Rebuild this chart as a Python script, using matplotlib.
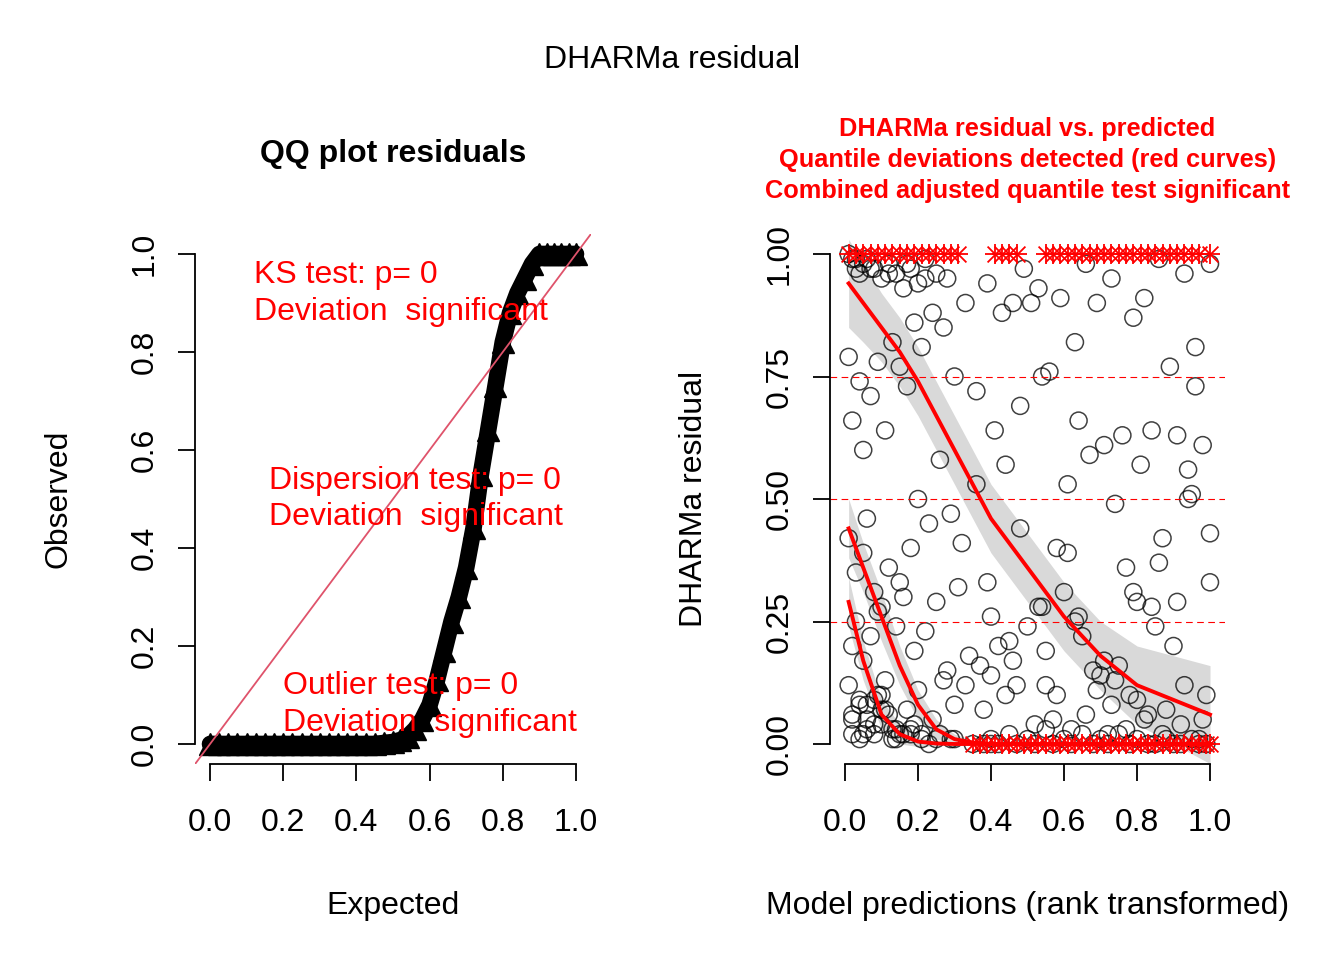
import numpy as np
import matplotlib
matplotlib.use("Agg")
import matplotlib.pyplot as plt

plt.rcParams['font.family'] = ['Liberation Sans', 'DejaVu Sans']

# QQ plot: observed quantiles at expected positions
qq_expected = [0.0, 0.025, 0.05, 0.075, 0.1, 0.125, 0.15, 0.175, 0.2, 0.225, 0.25, 0.275, 0.3,
               0.325, 0.35, 0.375, 0.4, 0.425, 0.45, 0.475, 0.5, 0.52, 0.54, 0.56, 0.58, 0.6,
               0.62, 0.64, 0.66, 0.68, 0.7, 0.72, 0.74, 0.76, 0.78, 0.8, 0.82, 0.84, 0.86,
               0.88, 0.9, 0.92, 0.94, 0.96, 0.98, 1.0]
qq_observed = [0.0, 0.0, 0.0, 0.0, 0.0, 0.0, 0.0, 0.0, 0.0, 0.0, 0.0, 0.0, 0.0,
               0.0, 0.0, 0.0, 0.0, 0.0, 0.0, 0.002, 0.004, 0.008, 0.015, 0.03, 0.05, 0.08,
               0.13, 0.19, 0.25, 0.30, 0.36, 0.44, 0.55, 0.64, 0.73, 0.82, 0.88, 0.92, 0.95,
               0.98, 1.0, 1.0, 1.0, 1.0, 1.0, 1.0]

# residual vs predicted scatter
res_x = [0.01, 0.02, 0.03, 0.04, 0.05, 0.06, 0.08, 0.1, 0.12, 0.14, 0.16, 0.18, 0.2, 0.22, 0.25, 0.28,
         0.01, 0.02, 0.04, 0.05, 0.07, 0.09, 0.11, 0.13, 0.15, 0.17, 0.19, 0.21, 0.24, 0.27, 0.3, 0.33,
         0.01, 0.03, 0.05, 0.06, 0.08, 0.1, 0.12, 0.15, 0.18, 0.2, 0.23, 0.26, 0.29, 0.32, 0.36,
         0.02, 0.03, 0.05, 0.07, 0.09, 0.11, 0.14, 0.16, 0.19, 0.22, 0.25, 0.28, 0.31, 0.34,
         0.01, 0.02, 0.04, 0.06, 0.08, 0.1, 0.12, 0.14, 0.17, 0.2, 0.24, 0.27, 0.3, 0.33, 0.37,
         0.02, 0.04, 0.06, 0.08, 0.1, 0.13, 0.15, 0.18, 0.21, 0.23, 0.26, 0.3, 0.35, 0.4,
         0.38, 0.4, 0.42, 0.45, 0.47, 0.5, 0.52, 0.55, 0.57, 0.6, 0.62, 0.65, 0.68, 0.7, 0.72, 0.75,
         0.78, 0.8, 0.83, 0.85, 0.88, 0.9, 0.92, 0.95, 0.97, 0.99,
         0.39, 0.43, 0.46, 0.49, 0.53, 0.56, 0.59, 0.63, 0.66, 0.69, 0.73, 0.76, 0.79, 0.82, 0.86,
         0.89, 0.93, 0.96, 1.0,
         0.36, 0.41, 0.44, 0.48, 0.51, 0.54, 0.58, 0.61, 0.64, 0.67, 0.71, 0.74, 0.77, 0.81, 0.84,
         0.87, 0.91, 0.94, 0.98,
         0.4, 0.45, 0.5, 0.55, 0.6, 0.65, 0.7, 0.75, 0.8, 0.85, 0.9, 0.95, 1.0,
         0.42, 0.47, 0.53, 0.58, 0.63, 0.68, 0.73, 0.78, 0.83, 0.88, 0.93, 0.98,
         0.38, 0.44, 0.52, 0.57, 0.62, 0.66, 0.72, 0.77, 0.82, 0.87, 0.92, 0.97,
         0.4, 0.46, 0.55, 0.61, 0.69, 0.74, 0.8, 0.86, 0.91, 0.96, 1.0,
         0.39, 0.48, 0.54, 0.64, 0.71, 0.79, 0.84, 0.94, 0.99,
         0.02, 0.04, 0.06, 0.09, 0.11, 0.13, 0.16, 0.19, 0.03, 0.07, 0.12, 0.17, 0.22,
         0.05, 0.08, 0.1, 0.14, 0.18, 0.21, 0.25, 0.29]
res_y = [1.0, 0.99, 0.97, 0.96, 0.98, 0.99, 0.97, 0.95, 0.98, 0.96, 0.93, 0.97, 0.94, 0.99, 0.96, 0.95,
         0.79, 0.66, 0.74, 0.6, 0.71, 0.78, 0.64, 0.82, 0.77, 0.73, 0.86, 0.81, 0.88, 0.85, 0.75, 0.9,
         0.42, 0.35, 0.39, 0.46, 0.31, 0.28, 0.36, 0.33, 0.4, 0.5, 0.45, 0.58, 0.47, 0.41, 0.53,
         0.2, 0.25, 0.17, 0.22, 0.27, 0.13, 0.24, 0.3, 0.19, 0.23, 0.29, 0.15, 0.32, 0.18,
         0.12, 0.05, 0.09, 0.08, 0.04, 0.1, 0.06, 0.03, 0.07, 0.11, 0.05, 0.13, 0.08, 0.12, 0.16,
         0.02, 0.01, 0.03, 0.02, 0.04, 0.01, 0.02, 0.03, 0.01, 0.0, 0.02, 0.01, 0.0, 0.0,
         0.0, 0.01, 0.0, 0.02, 0.0, 0.01, 0.0, 0.03, 0.0, 0.01, 0.0, 0.02, 0.0, 0.01, 0.0, 0.02,
         0.0, 0.01, 0.0, 0.0, 0.01, 0.0, 0.0, 0.01, 0.0, 0.0,
         0.94, 0.88, 0.9, 0.97, 0.93, 0.76, 0.91, 0.82, 0.98, 0.9, 0.95, 0.63, 0.87, 0.91, 0.99,
         0.77, 0.96, 0.81, 0.98,
         0.72, 0.64, 0.57, 0.69, 0.9, 0.75, 0.4, 0.53, 0.66, 0.59, 0.61, 0.49, 0.36, 0.57, 0.64,
         0.42, 0.63, 0.5, 0.61,
         0.26, 0.21, 0.24, 0.19, 0.31, 0.22, 0.14, 0.16, 0.29, 0.24, 0.2, 0.51, 0.33,
         0.2, 0.12, 0.28, 0.1, 0.25, 0.15, 0.08, 0.1, 0.06, 0.07, 0.12, 0.05,
         0.07, 0.1, 0.04, 0.05, 0.03, 0.06, 0.02, 0.03, 0.05, 0.02, 0.04, 0.01,
         0.14, 0.17, 0.12, 0.39, 0.11, 0.13, 0.09, 0.37, 0.29, 0.73, 0.43,
         0.33, 0.44, 0.28, 0.26, 0.17, 0.31, 0.28, 0.56, 0.1,
         0.06, 0.08, 0.05, 0.1, 0.07, 0.03, 0.02, 0.04, 0.99, 0.97, 0.96, 0.98, 0.95,
         0.02, 0.09, 0.07, 0.01, 0.02, 0.02, 0.01, 0.01]

# outliers (stars) at the bounds
out_top_x = [0.01, 0.03, 0.05, 0.07, 0.09, 0.11, 0.13, 0.15, 0.17, 0.19, 0.21, 0.23, 0.25, 0.27, 0.29,
             0.31, 0.41, 0.43, 0.45, 0.47, 0.55, 0.57, 0.59, 0.61, 0.63, 0.65, 0.67, 0.69, 0.71, 0.73,
             0.75, 0.77, 0.79, 0.81, 0.83, 0.85, 0.87, 0.89, 0.91, 0.93, 0.95, 0.97, 1.0]
out_bot_x = [0.35, 0.37, 0.39, 0.41, 0.43, 0.45, 0.47, 0.49, 0.51, 0.53, 0.55, 0.57, 0.59, 0.61, 0.63,
             0.65, 0.67, 0.69, 0.71, 0.73, 0.75, 0.77, 0.79, 0.81, 0.83, 0.85, 0.87, 0.89, 0.91, 0.93,
             0.95, 0.97, 0.99, 1.0]

# quantile regression curves
qx = [0.01, 0.05, 0.1, 0.15, 0.2, 0.25, 0.3, 0.35, 0.4, 0.5, 0.6, 0.7, 0.8, 0.9, 1.0]
q75 = [0.94, 0.90, 0.85, 0.80, 0.74, 0.67, 0.60, 0.53, 0.46, 0.36, 0.26, 0.18, 0.12, 0.09, 0.06]
q50 = [0.44, 0.36, 0.26, 0.16, 0.08, 0.03, 0.01, 0.003, 0.0, 0.0, 0.0, 0.0, 0.0, 0.0, 0.0]
q25 = [0.29, 0.17, 0.06, 0.02, 0.005, 0.001, 0.0, 0.0, 0.0, 0.0, 0.0, 0.0, 0.0, 0.0, 0.0]
band75 = [0.09, 0.08, 0.07, 0.07, 0.07, 0.07, 0.07, 0.07, 0.07, 0.07, 0.07, 0.07, 0.08, 0.09, 0.1]
band50 = [0.06, 0.05, 0.05, 0.04, 0.03, 0.02, 0.01, 0.005, 0.0, 0.0, 0.0, 0.0, 0.0, 0.0, 0.0]
band25 = [0.05, 0.04, 0.03, 0.02, 0.01, 0.005, 0.0, 0.0, 0.0, 0.0, 0.0, 0.0, 0.0, 0.0, 0.0]

W, H = 1344, 960
fig = plt.figure(figsize=(W / 100, H / 100), dpi=100)

def px_axes(l, r, b, t):
    return fig.add_axes([l / W, 1 - b / H, (r - l) / W, (b - t) / H])

TICK = 23

def r_style(ax):
    for s in ['top', 'right']:
        ax.spines[s].set_visible(False)
    ax.tick_params(length=12, width=1.3, labelsize=TICK)
    ax.tick_params(axis='x', pad=20)
    ax.tick_params(axis='y', pad=14)
    for s in ['left', 'bottom']:
        ax.spines[s].set_linewidth(1.3)
        ax.spines[s].set_bounds(0, 1)

# ---- left: QQ plot
ax1 = px_axes(195.4, 590.6, 763.6, 234.4)
ax1.set_xlim(-0.04, 1.04)
ax1.set_ylim(-0.04, 1.04)
r_style(ax1)
ax1.set_xticks([0, 0.2, 0.4, 0.6, 0.8, 1.0])
ax1.set_yticks([0, 0.2, 0.4, 0.6, 0.8, 1.0])
ax1.set_yticklabels(['0.0', '0.2', '0.4', '0.6', '0.8', '1.0'], rotation=90, va='center')
ax1.plot(qq_expected, qq_observed, color='black', lw=12, solid_capstyle='round')
ax1.plot(qq_expected, qq_observed, linestyle='none', marker='^', ms=16, color='black')
ax1.plot([-0.04, 1.04], [-0.04, 1.04], color='#DF536B', lw=1.3)
red_kw = dict(color='red', fontsize=TICK, linespacing=1.3, va='center', ha='left')
ax1.text(0.12, 0.92, 'KS test: p= 0\nDeviation  significant', **red_kw)
ax1.text(0.16, 0.5, 'Dispersion test: p= 0\nDeviation  significant', **red_kw)
ax1.text(0.2, 0.08, 'Outlier test: p= 0\nDeviation  significant', **red_kw)
ax1.set_title('QQ plot residuals', fontsize=TICK, fontweight='bold', pad=52)
ax1.set_xlabel('Expected', fontsize=TICK, labelpad=38)
ax1.set_ylabel('Observed', fontsize=TICK, labelpad=40)

# ---- right: residual vs predicted
ax2 = px_axes(830.4, 1224.6, 763.6, 234.4)
ax2.set_xlim(-0.04, 1.04)
ax2.set_ylim(-0.04, 1.04)
r_style(ax2)
ax2.set_xticks([0, 0.2, 0.4, 0.6, 0.8, 1.0])
ax2.set_yticks([0, 0.25, 0.5, 0.75, 1.0])
ax2.set_yticklabels(['0.00', '0.25', '0.50', '0.75', '1.00'], rotation=90, va='center')
for yv in [0.25, 0.5, 0.75]:
    ax2.axhline(yv, color='red', lw=0.8, ls=(0, (6, 4)))
for q, b in [(q75, band75), (q50, band50), (q25, band25)]:
    q = np.array(q); b = np.array(b)
    ax2.fill_between(qx, q - b, q + b, color='#D9D9D9', lw=0)
ax2.scatter(res_x, res_y, s=150, facecolors='none', edgecolors='black', linewidths=1.1, alpha=0.75)
for xs, yv in [(out_top_x, 1.0), (out_bot_x, 0.0)]:
    ax2.scatter(xs, [yv] * len(xs), marker='+', s=220, color='red', lw=1.3)
    ax2.scatter(xs, [yv] * len(xs), marker='x', s=130, color='red', lw=1.3)
for q in [q75, q50, q25]:
    ax2.plot(qx, q, color='red', lw=2.8)
ax2.set_title('DHARMa residual vs. predicted\nQuantile deviations detected (red curves)\n'
              'Combined adjusted quantile test significant',
              fontsize=18.3, fontweight='bold', color='red', pad=26, linespacing=1.38)
ax2.set_xlabel('Model predictions (rank transformed)', fontsize=TICK, labelpad=38)
ax2.set_ylabel('DHARMa residual', fontsize=TICK, labelpad=40)

fig.text(0.5, 1 - 60 / H, 'DHARMa residual', ha='center', va='center', fontsize=TICK)

fig.savefig('out.png', dpi=100)
